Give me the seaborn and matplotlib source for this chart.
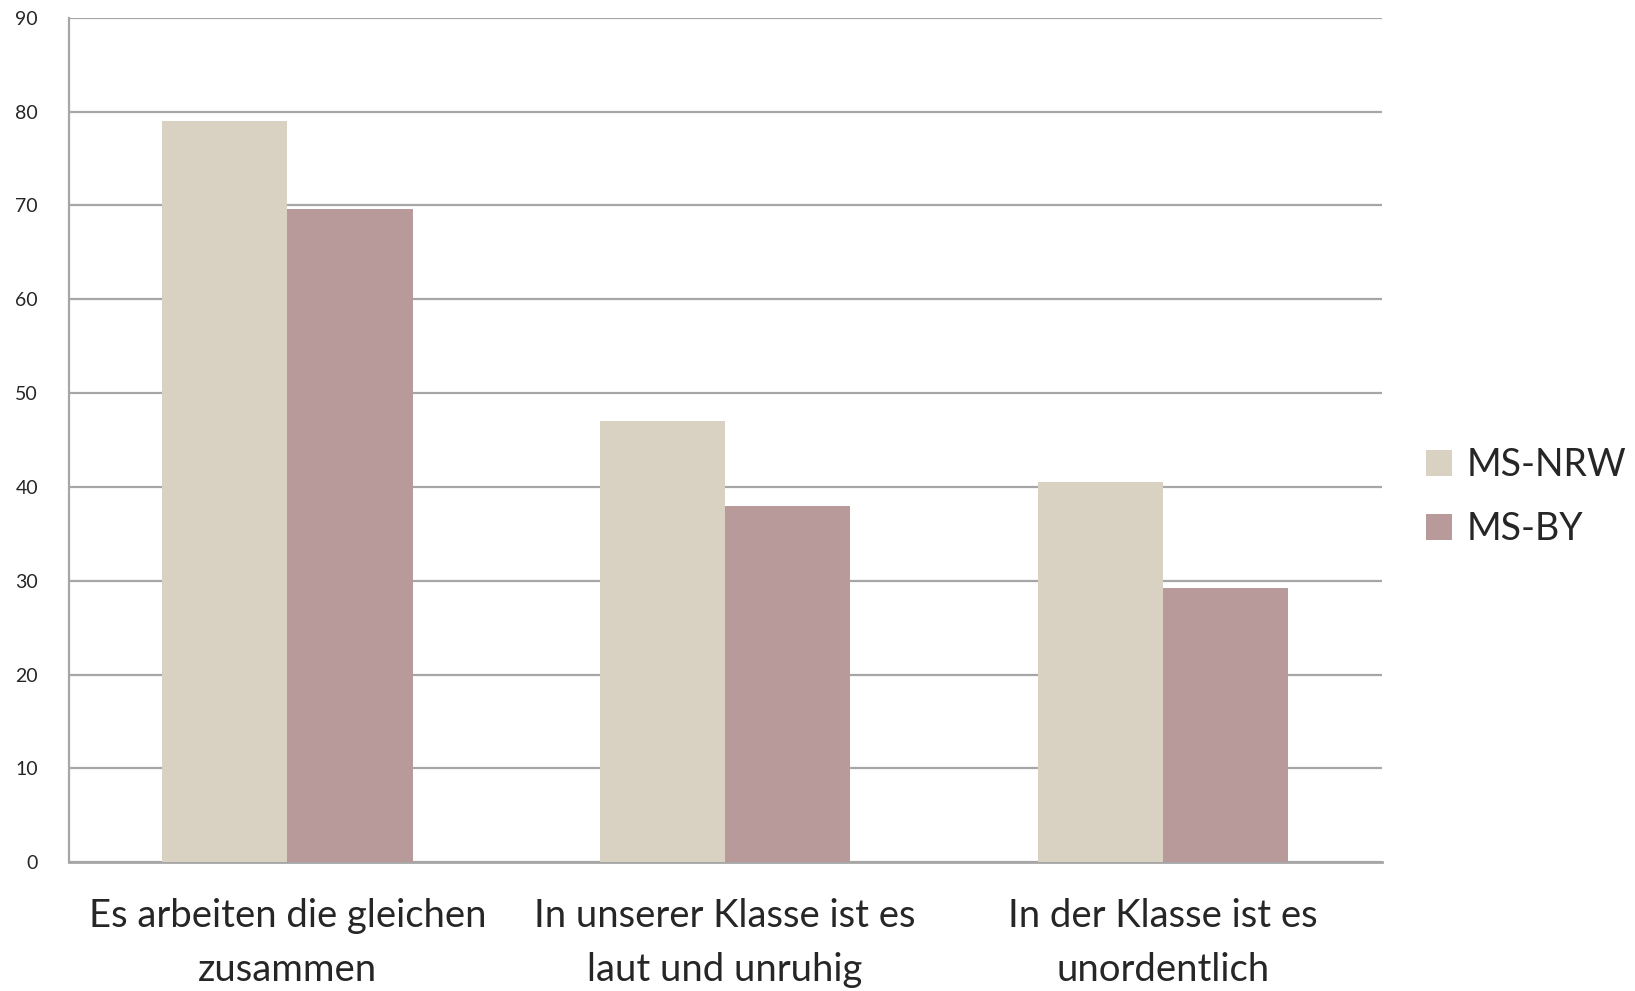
import pandas as pd
import matplotlib.pyplot as plt
import seaborn as sns

categories = ["Es arbeiten die gleichen\nzusammen",
              "In unserer Klasse ist es\nlaut und unruhig",
              "In der Klasse ist es\nunordentlich"]
nrw_values = [79, 47, 40.5]
by_values = [69.6, 38, 29.2]
series = ["MS-NRW", "MS-BY"]
colors = ["#d9d2c3", "#b89a9a"]

df = pd.DataFrame({
    "Kategorie": categories * 2,
    "Wert": nrw_values + by_values,
    "Gruppe": [series[0]] * 3 + [series[1]] * 3,
})

sns.set_style("white")
plt.rcParams["font.family"] = ["Lato", "DejaVu Sans"]

fig = plt.figure(figsize=(16.35, 9.91), dpi=100)
ax = fig.add_axes([0.042, 0.130, 0.803, 0.852])

sns.barplot(data=df, x="Kategorie", y="Wert", hue="Gruppe", palette=colors,
            width=0.572, saturation=1, linewidth=0, ax=ax, zorder=3)

ax.set_ylim(0, 90)
ax.set_xlim(-0.5, 2.5)
ax.set_yticks(range(0, 91, 10))
ax.yaxis.grid(True, color="#a6a6a6", linewidth=1.6, zorder=0)
ax.set_axisbelow(True)
ax.set_xlabel("")
ax.set_ylabel("")
for s in ["top", "right"]:
    ax.spines[s].set_visible(False)
ax.spines["left"].set_color("#a6a6a6")
ax.spines["left"].set_linewidth(1.6)
ax.spines["bottom"].set_color("#a6a6a6")
ax.spines["bottom"].set_linewidth(2)
ax.tick_params(axis="y", labelsize=14, length=0, pad=22)
ax.tick_params(axis="x", labelsize=27.5, length=0, pad=26)
for lbl in ax.get_xticklabels():
    lbl.set_linespacing(1.6)

leg = ax.legend(loc="center left", bbox_to_anchor=(1.008, 0.432), frameon=False,
                fontsize=27, handlelength=0.7, handleheight=0.7,
                handletextpad=0.4, labelspacing=0.75)

fig.savefig("out.png", dpi=100)
